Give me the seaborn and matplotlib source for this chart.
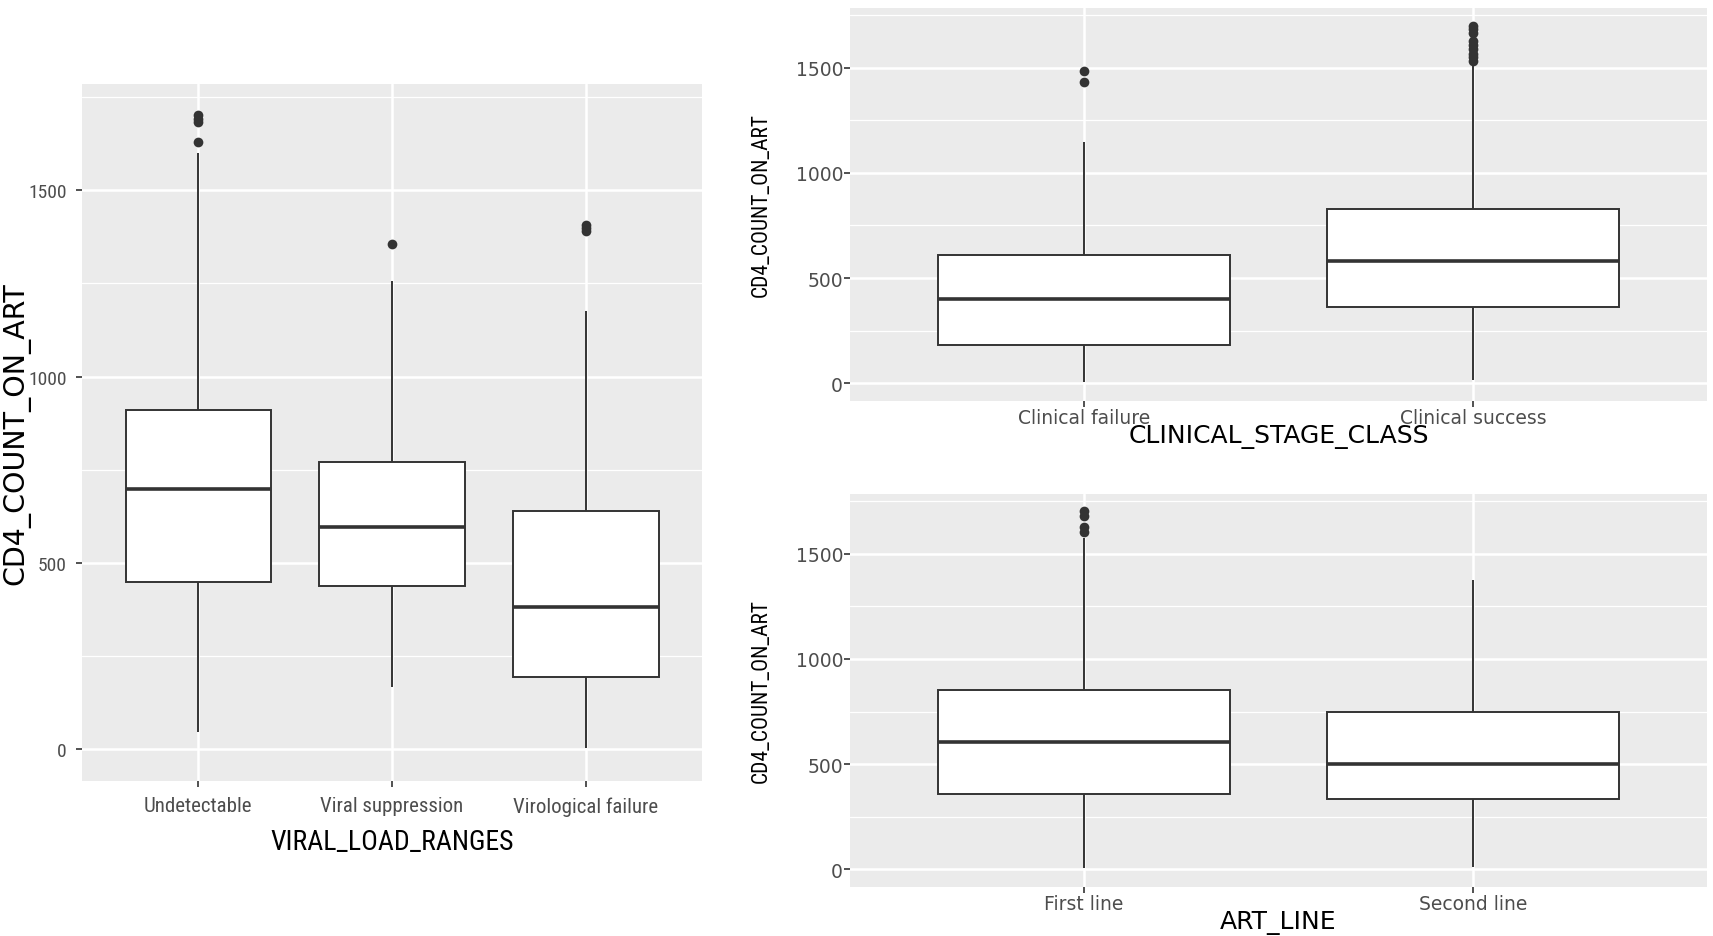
import matplotlib
matplotlib.use("Agg")
import matplotlib.pyplot as plt
from matplotlib.ticker import MultipleLocator
import seaborn as sns
import pandas as pd

sns.set_theme(style="darkgrid")
plt.rcParams["font.family"] = ["DejaVu Sans"]
narrow = ["Liberation Sans Narrow", "Roboto Condensed", "Roboto", "DejaVu Sans"]
wide = ["DejaVu Sans"]

Y = "CD4_COUNT_ON_ART"

# box stats per group: lower whisker, Q1, median, Q3, upper whisker
viral_groups = ["Undetectable", "Viral suppression", "Virological failure"]
viral_box = [[46, 450, 698, 911, 1600],
             [166, 438, 596, 771, 1257],
             [4, 195, 383, 640, 1177]]
viral_out = [[1630, 1682, 1692, 1702], [1355], [1390, 1398, 1406]]

stage_groups = ["Clinical failure", "Clinical success"]
stage_box = [[4, 182, 399, 611, 1147],
             [14, 364, 582, 827, 1520]]
stage_out = [[1435, 1487],
             [1535, 1550, 1568, 1588, 1608, 1630, 1665, 1685, 1700]]

line_groups = ["First line", "Second line"]
line_box = [[4, 356, 604, 853, 1574],
            [10, 332, 498, 750, 1376]]
line_out = [[1604, 1628, 1682, 1704], []]


def tables(col, groups, boxes, outs):
    b = pd.DataFrame([(g, v) for g, vals in zip(groups, boxes) for v in vals], columns=[col, Y])
    o = pd.DataFrame([(g, v) for g, vals in zip(groups, outs) for v in vals], columns=[col, Y])
    return b, o


def draw(ax, col, groups, boxes, outs, tick_font, xt_size, yt_size, lab_font, lab_size,
         ylab_font, ylab_size, tpad, xpad, ylab_x):
    b, o = tables(col, groups, boxes, outs)
    sns.boxplot(data=b, x=col, y=Y, order=groups, whis=(0, 100), width=0.75,
                color="white", linecolor="#333333", linewidth=1.4,
                medianprops={"linewidth": 2.6}, capprops={"linewidth": 0},
                fliersize=0, ax=ax)
    sns.stripplot(data=o, x=col, y=Y, order=groups, jitter=False,
                  color="#333333", size=7, ax=ax, zorder=5)
    ax.set_facecolor("#EBEBEB")
    ax.set_xlim(-0.6, len(groups) - 0.4)
    ax.set_ylim(-85, 1785)
    ax.yaxis.set_major_locator(MultipleLocator(500))
    ax.yaxis.set_minor_locator(MultipleLocator(250))
    ax.grid(which="major", color="white", linewidth=1.8)
    ax.grid(which="minor", axis="y", color="white", linewidth=0.9)
    ax.set_axisbelow(True)
    for s in ax.spines.values():
        s.set_visible(False)
    ax.tick_params(which="major", bottom=True, left=True, length=4, width=1.2,
                   color="#333333", labelcolor="#4D4D4D", pad=tpad)
    ax.tick_params(which="minor", length=0)
    for t in ax.get_xticklabels():
        t.set_family(tick_font)
        t.set_fontsize(xt_size)
    for t in ax.get_yticklabels():
        t.set_family(tick_font)
        t.set_fontsize(yt_size)
    ax.set_xlabel(col, family=lab_font, fontsize=lab_size, color="black", labelpad=xpad)
    ax.set_ylabel(Y, family=ylab_font, fontsize=ylab_size, color="black")
    ax.yaxis.set_label_coords(ylab_x, 0.5)


fig = plt.figure(figsize=(17.13, 9.37), dpi=100)
ax1 = fig.add_axes([0.0479, 0.1654, 0.362, 0.744])
ax2 = fig.add_axes([0.4962, 0.571, 0.5003, 0.4194])
ax3 = fig.add_axes([0.4962, 0.0523, 0.5003, 0.4194])

draw(ax1, "VIRAL_LOAD_RANGES", viral_groups, viral_box, viral_out,
     narrow, 15, 14, narrow, 20, wide, 20.5, 7, 9, -0.083)
draw(ax2, "CLINICAL_STAGE_CLASS", stage_groups, stage_box, stage_out,
     wide, 13.5, 13.5, wide, 18, narrow, 15.5, 1, -2, -0.091)
draw(ax3, "ART_LINE", line_groups, line_box, line_out,
     wide, 13.5, 13.5, wide, 18, narrow, 15.5, 1, -2, -0.091)

fig.savefig("out.png", dpi=100)
